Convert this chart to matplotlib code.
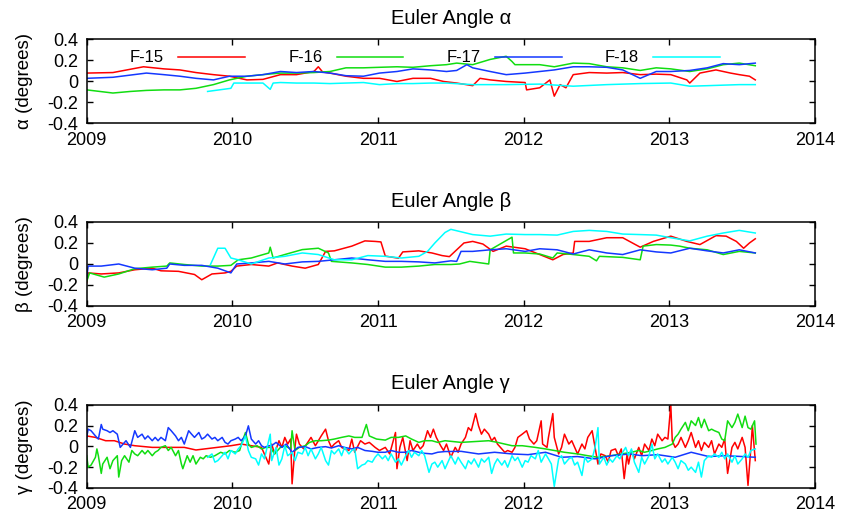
import matplotlib
matplotlib.use("Agg")
import matplotlib.pyplot as plt

plt.rcParams['font.family'] = ['Liberation Sans', 'DejaVu Sans']

satellites = ['F-15', 'F-16', 'F-17', 'F-18']
colors = ['#ff0000', '#11dd11', '#1438ff', '#00ffff']
year_ticks = [2009, 2010, 2011, 2012, 2013, 2014]
angle_ticks = [-0.4, -0.2, 0.0, 0.2, 0.4]
angle_labels = ['-0.4', '-0.2', '0', '0.2', '0.4']

# (decimal year, degrees) for each satellite and Euler angle
alpha_f15 = [(2009.00, 0.08), (2009.18, 0.085), (2009.39, 0.14), (2009.53, 0.12), (2009.64, 0.11),
             (2009.75, 0.085), (2009.87, 0.065), (2009.98, 0.05), (2010.10, 0.015), (2010.21, 0.02),
             (2010.33, 0.065), (2010.44, 0.065), (2010.56, 0.095), (2010.59, 0.14), (2010.62, 0.09),
             (2010.67, 0.08), (2010.78, 0.05), (2010.90, 0.03), (2011.01, 0.03), (2011.13, 0.0),
             (2011.24, 0.03), (2011.36, 0.03), (2011.45, 0.0), (2011.54, -0.015), (2011.65, -0.04),
             (2011.70, 0.03), (2011.77, 0.015), (2011.88, 0.0), (2012.01, -0.01), (2012.02, -0.08),
             (2012.11, -0.06), (2012.18, 0.015), (2012.21, -0.14), (2012.25, -0.03), (2012.29, -0.06),
             (2012.34, 0.065), (2012.45, 0.085), (2012.57, 0.08), (2012.68, 0.085), (2012.80, 0.065),
             (2012.91, 0.07), (2013.01, 0.065), (2013.12, 0.015), (2013.14, -0.015), (2013.21, 0.08),
             (2013.32, 0.11), (2013.42, 0.08), (2013.48, 0.065), (2013.55, 0.05), (2013.59, 0.015)]
alpha_f16 = [(2009.00, -0.08), (2009.18, -0.11), (2009.30, -0.095), (2009.41, -0.085), (2009.53, -0.08),
             (2009.64, -0.08), (2009.75, -0.065), (2009.87, -0.03), (2009.98, 0.015), (2010.10, 0.05),
             (2010.21, 0.065), (2010.33, 0.08), (2010.44, 0.08), (2010.56, 0.085), (2010.67, 0.095),
             (2010.78, 0.13), (2010.90, 0.13), (2011.01, 0.135), (2011.13, 0.14), (2011.24, 0.135),
             (2011.36, 0.15), (2011.47, 0.16), (2011.54, 0.175), (2011.65, 0.16), (2011.77, 0.21),
             (2011.88, 0.24), (2011.92, 0.19), (2011.94, 0.16), (2012.11, 0.16), (2012.21, 0.14),
             (2012.34, 0.175), (2012.45, 0.17), (2012.57, 0.14), (2012.68, 0.13), (2012.80, 0.105),
             (2012.91, 0.13), (2013.01, 0.12), (2013.14, 0.095), (2013.26, 0.12), (2013.37, 0.16),
             (2013.48, 0.175), (2013.59, 0.15)]
alpha_f17 = [(2009.00, 0.03), (2009.18, 0.04), (2009.41, 0.08), (2009.53, 0.065), (2009.64, 0.05),
             (2009.75, 0.03), (2009.87, 0.015), (2009.98, 0.05), (2010.10, 0.05), (2010.21, 0.065),
             (2010.33, 0.095), (2010.44, 0.085), (2010.56, 0.095), (2010.67, 0.08), (2010.78, 0.055),
             (2010.90, 0.05), (2011.01, 0.08), (2011.13, 0.095), (2011.24, 0.12), (2011.36, 0.11),
             (2011.47, 0.095), (2011.54, 0.105), (2011.61, 0.16), (2011.65, 0.13), (2011.77, 0.095),
             (2011.88, 0.065), (2012.01, 0.08), (2012.11, 0.095), (2012.21, 0.11), (2012.34, 0.14),
             (2012.45, 0.14), (2012.57, 0.135), (2012.68, 0.11), (2012.80, 0.03), (2012.91, 0.095),
             (2013.01, 0.095), (2013.14, 0.105), (2013.26, 0.13), (2013.37, 0.17), (2013.48, 0.16),
             (2013.59, 0.175)]
alpha_f18 = [(2009.83, -0.095), (2009.91, -0.08), (2009.99, -0.065), (2010.01, -0.015), (2010.10, -0.015),
             (2010.21, -0.015), (2010.26, -0.075), (2010.28, -0.015), (2010.33, -0.01), (2010.44, -0.015),
             (2010.56, -0.015), (2010.67, -0.02), (2010.78, -0.015), (2010.90, -0.01), (2011.01, -0.03),
             (2011.13, -0.02), (2011.24, -0.02), (2011.36, -0.015), (2011.47, -0.015), (2011.65, -0.03),
             (2011.88, -0.03), (2012.11, -0.025), (2012.34, -0.045), (2012.57, -0.03), (2012.80, -0.02),
             (2013.01, -0.015), (2013.14, -0.045), (2013.26, -0.04), (2013.48, -0.03), (2013.59, -0.03)]

beta_f15 = [(2009.00, -0.18), (2009.01, -0.085), (2009.10, -0.095), (2009.22, -0.085), (2009.33, -0.055),
            (2009.45, -0.04), (2009.51, -0.065), (2009.63, -0.07), (2009.74, -0.1), (2009.79, -0.15),
            (2009.86, -0.095), (2009.95, -0.085), (2009.99, -0.07), (2010.03, -0.02), (2010.13, -0.005),
            (2010.25, -0.02), (2010.31, 0.01), (2010.41, -0.02), (2010.50, -0.04), (2010.59, -0.005),
            (2010.64, 0.12), (2010.70, 0.125), (2010.82, 0.17), (2010.91, 0.22), (2010.98, 0.215),
            (2011.02, 0.21), (2011.05, 0.075), (2011.14, 0.055), (2011.17, 0.115), (2011.28, 0.125),
            (2011.37, 0.105), (2011.44, 0.08), (2011.49, 0.07), (2011.59, 0.2), (2011.65, 0.215),
            (2011.72, 0.19), (2011.79, 0.12), (2011.88, 0.17), (2012.01, 0.145), (2012.11, 0.09),
            (2012.20, 0.04), (2012.27, 0.09), (2012.34, 0.105), (2012.35, 0.215), (2012.45, 0.215),
            (2012.57, 0.25), (2012.68, 0.25), (2012.80, 0.16), (2012.89, 0.215), (2013.01, 0.265),
            (2013.12, 0.215), (2013.21, 0.185), (2013.32, 0.27), (2013.39, 0.265), (2013.46, 0.215),
            (2013.51, 0.15), (2013.55, 0.2), (2013.59, 0.24)]
beta_f16 = [(2009.00, -0.165), (2009.02, -0.085), (2009.12, -0.125), (2009.22, -0.095), (2009.33, -0.045),
            (2009.45, -0.03), (2009.55, -0.02), (2009.57, 0.01), (2009.67, -0.005), (2009.79, -0.02),
            (2009.90, -0.02), (2009.99, -0.013), (2010.04, 0.04), (2010.13, 0.057), (2010.25, 0.105),
            (2010.26, 0.16), (2010.28, 0.057), (2010.36, 0.09), (2010.48, 0.137), (2010.59, 0.15),
            (2010.66, 0.105), (2010.68, 0.025), (2010.82, 0.01), (2010.93, -0.005), (2011.05, -0.03),
            (2011.16, -0.03), (2011.28, -0.02), (2011.39, -0.005), (2011.50, -0.005), (2011.56, 0.0),
            (2011.63, 0.025), (2011.76, 0.0), (2011.77, 0.135), (2011.92, 0.255), (2011.93, 0.105),
            (2012.01, 0.105), (2012.11, 0.095), (2012.20, 0.057), (2012.23, 0.105), (2012.34, 0.09),
            (2012.45, 0.073), (2012.50, 0.03), (2012.52, 0.073), (2012.68, 0.063), (2012.80, 0.04),
            (2012.82, 0.17), (2012.91, 0.185), (2013.01, 0.18), (2013.07, 0.17), (2013.14, 0.15),
            (2013.26, 0.135), (2013.37, 0.09), (2013.48, 0.12), (2013.59, 0.105)]
beta_f17 = [(2009.00, -0.13), (2009.01, -0.02), (2009.10, -0.02), (2009.22, 0.0), (2009.33, -0.04),
            (2009.45, -0.055), (2009.55, -0.04), (2009.57, 0.0), (2009.67, -0.013), (2009.79, -0.013),
            (2009.90, -0.04), (2009.99, -0.085), (2010.03, 0.0), (2010.13, 0.01), (2010.25, 0.025),
            (2010.36, 0.0), (2010.48, 0.02), (2010.59, 0.025), (2010.70, 0.04), (2010.82, 0.057),
            (2010.93, 0.04), (2011.05, 0.025), (2011.16, 0.025), (2011.28, 0.02), (2011.39, 0.01),
            (2011.50, 0.03), (2011.54, 0.025), (2011.57, 0.12), (2011.65, 0.12), (2011.77, 0.135),
            (2011.88, 0.145), (2012.01, 0.12), (2012.11, 0.145), (2012.23, 0.135), (2012.34, 0.095),
            (2012.45, 0.135), (2012.57, 0.105), (2012.68, 0.09), (2012.80, 0.135), (2012.91, 0.115),
            (2013.01, 0.105), (2013.14, 0.15), (2013.26, 0.125), (2013.37, 0.105), (2013.48, 0.135),
            (2013.59, 0.105)]
beta_f18 = [(2009.85, -0.005), (2009.90, 0.15), (2009.95, 0.15), (2009.99, 0.057), (2010.04, 0.04),
            (2010.13, 0.0), (2010.25, 0.057), (2010.36, 0.073), (2010.48, 0.105), (2010.59, 0.09),
            (2010.70, 0.04), (2010.82, 0.04), (2010.93, 0.08), (2011.05, 0.073), (2011.16, 0.057),
            (2011.28, 0.073), (2011.34, 0.12), (2011.39, 0.2), (2011.46, 0.30), (2011.50, 0.33),
            (2011.65, 0.28), (2011.77, 0.265), (2011.88, 0.285), (2012.01, 0.28), (2012.11, 0.28),
            (2012.23, 0.275), (2012.34, 0.31), (2012.45, 0.32), (2012.57, 0.31), (2012.68, 0.285),
            (2012.80, 0.28), (2012.91, 0.275), (2013.01, 0.25), (2013.14, 0.22), (2013.26, 0.265),
            (2013.37, 0.295), (2013.48, 0.32), (2013.59, 0.295)]

gamma_f15 = [(2009.00, 0.1), (2009.06, 0.086), (2009.13, 0.054), (2009.19, 0.054), (2009.26, 0.022),
             (2009.33, 0.006), (2009.45, -0.01), (2009.56, -0.01), (2009.67, -0.01), (2009.75, -0.035),
             (2009.81, -0.025), (2009.90, -0.01), (2009.99, 0.006), (2010.06, 0.022), (2010.13, 0.006),
             (2010.20, -0.01), (2010.22, -0.073), (2010.25, -0.17), (2010.27, 0.022), (2010.29, -0.073),
             (2010.32, 0.054), (2010.34, -0.01), (2010.36, 0.086), (2010.38, 0.022), (2010.40, 0.07),
             (2010.41, -0.36), (2010.43, -0.01), (2010.44, 0.117), (2010.46, 0.022), (2010.49, -0.025),
             (2010.51, 0.022), (2010.54, 0.086), (2010.57, 0.006), (2010.59, 0.054), (2010.61, 0.1),
             (2010.64, 0.165), (2010.66, 0.054), (2010.68, -0.01), (2010.70, 0.022), (2010.73, 0.054),
             (2010.75, -0.01), (2010.77, -0.025), (2010.80, -0.04), (2010.82, 0.07), (2010.84, -0.057),
             (2010.88, 0.054), (2010.91, 0.022), (2010.94, 0.038), (2010.98, -0.01), (2011.01, -0.04),
             (2011.05, -0.01), (2011.08, -0.073), (2011.12, 0.133), (2011.13, -0.215), (2011.15, -0.01),
             (2011.17, 0.086), (2011.20, -0.137), (2011.22, 0.054), (2011.24, -0.04), (2011.27, 0.022),
             (2011.29, -0.025), (2011.31, 0.006), (2011.34, 0.15), (2011.36, 0.086), (2011.38, 0.165),
             (2011.40, 0.086), (2011.43, 0.006), (2011.45, -0.04), (2011.47, 0.022), (2011.50, -0.105),
             (2011.53, -0.01), (2011.55, -0.057), (2011.57, 0.022), (2011.60, 0.086), (2011.62, 0.18),
             (2011.64, 0.15), (2011.67, 0.315), (2011.69, 0.197), (2011.71, 0.117), (2011.73, 0.165),
             (2011.76, 0.117), (2011.78, 0.054), (2011.80, 0.086), (2011.82, 0.022), (2011.85, -0.025),
             (2011.87, -0.057), (2011.89, -0.04), (2011.92, -0.057), (2011.94, -0.01), (2011.96, 0.086),
             (2011.99, 0.117), (2012.02, 0.15), (2012.04, 0.07), (2012.07, 0.022), (2012.09, 0.054),
             (2012.12, 0.245), (2012.13, 0.022), (2012.16, -0.01), (2012.17, 0.086), (2012.20, 0.315),
             (2012.21, 0.086), (2012.24, -0.073), (2012.26, -0.01), (2012.28, 0.117), (2012.31, 0.022),
             (2012.33, 0.054), (2012.35, -0.01), (2012.37, -0.073), (2012.40, 0.022), (2012.42, -0.025),
             (2012.44, 0.086), (2012.47, 0.15), (2012.49, -0.01), (2012.51, -0.17), (2012.53, -0.073),
             (2012.56, -0.09), (2012.58, -0.152), (2012.60, -0.04), (2012.63, -0.025), (2012.65, -0.09),
             (2012.67, -0.025), (2012.69, -0.31), (2012.71, -0.073), (2012.72, -0.17), (2012.74, -0.04),
             (2012.76, -0.12), (2012.79, -0.01), (2012.81, -0.09), (2012.83, 0.022), (2012.86, -0.04),
             (2012.88, 0.07), (2012.90, 0.006), (2012.92, 0.117), (2012.95, 0.054), (2012.97, 0.086),
             (2012.99, 0.07), (2013.01, 0.4), (2013.02, 0.054), (2013.04, -0.01), (2013.06, 0.022),
             (2013.08, 0.086), (2013.11, -0.01), (2013.13, 0.054), (2013.15, 0.133), (2013.18, -0.01),
             (2013.20, 0.054), (2013.22, -0.04), (2013.24, 0.038), (2013.27, -0.01), (2013.29, 0.054),
             (2013.31, -0.073), (2013.34, 0.022), (2013.36, -0.01), (2013.38, 0.07), (2013.40, -0.26),
             (2013.43, -0.01), (2013.45, 0.038), (2013.47, -0.025), (2013.50, 0.086), (2013.52, -0.01),
             (2013.54, -0.375), (2013.56, -0.01), (2013.57, 0.2), (2013.59, -0.137)]
gamma_f16 = [(2009.00, -0.09), (2009.01, -0.2), (2009.03, -0.18), (2009.06, -0.105), (2009.07, -0.025),
             (2009.08, -0.09), (2009.10, -0.26), (2009.11, -0.17), (2009.14, -0.105), (2009.16, -0.215),
             (2009.18, -0.137), (2009.21, -0.09), (2009.22, -0.295), (2009.24, -0.137), (2009.26, -0.09),
             (2009.29, -0.152), (2009.31, -0.04), (2009.33, -0.073), (2009.35, -0.09), (2009.38, -0.04),
             (2009.40, -0.073), (2009.42, -0.04), (2009.45, -0.09), (2009.47, -0.057), (2009.49, -0.04),
             (2009.51, -0.01), (2009.54, 0.006), (2009.56, -0.04), (2009.58, -0.01), (2009.61, -0.09),
             (2009.63, -0.04), (2009.65, -0.17), (2009.66, -0.215), (2009.69, -0.09), (2009.71, -0.152),
             (2009.73, -0.09), (2009.75, -0.17), (2009.78, -0.105), (2009.80, -0.12), (2009.82, -0.09),
             (2009.85, -0.105), (2009.88, -0.09), (2009.92, -0.057), (2009.95, -0.073), (2009.98, -0.04),
             (2010.02, -0.057), (2010.05, -0.04), (2010.07, 0.054), (2010.09, 0.133), (2010.11, 0.022),
             (2010.13, -0.01), (2010.17, 0.006), (2010.20, -0.025), (2010.23, -0.01), (2010.26, -0.01),
             (2010.29, -0.073), (2010.33, -0.01), (2010.36, 0.006), (2010.40, -0.025), (2010.41, 0.15),
             (2010.43, -0.04), (2010.46, -0.01), (2010.50, 0.006), (2010.53, 0.038), (2010.57, 0.054),
             (2010.61, 0.054), (2010.66, 0.06), (2010.70, 0.07), (2010.75, 0.086), (2010.80, 0.1),
             (2010.84, 0.086), (2010.89, 0.086), (2010.92, 0.21), (2010.94, 0.1), (2010.99, 0.07),
             (2011.05, 0.06), (2011.09, 0.086), (2011.14, 0.086), (2011.19, 0.1), (2011.23, 0.07),
             (2011.28, 0.038), (2011.32, 0.054), (2011.37, 0.054), (2011.41, 0.038), (2011.46, 0.054),
             (2011.57, 0.038), (2011.69, 0.048), (2011.76, 0.054), (2011.82, 0.038), (2011.92, 0.006),
             (2011.99, 0.006), (2012.08, -0.01), (2012.15, -0.025), (2012.21, -0.04), (2012.28, -0.057),
             (2012.37, -0.073), (2012.44, -0.09), (2012.51, -0.105), (2012.60, -0.09), (2012.67, -0.073),
             (2012.74, -0.057), (2012.79, -0.04), (2012.83, -0.057), (2012.88, -0.04), (2012.92, -0.025),
             (2012.97, -0.01), (2013.02, 0.022), (2013.04, 0.086), (2013.06, 0.117), (2013.08, 0.165),
             (2013.11, 0.23), (2013.13, 0.15), (2013.15, 0.245), (2013.18, 0.2), (2013.20, 0.277),
             (2013.22, 0.18), (2013.24, 0.26), (2013.27, 0.15), (2013.29, 0.165), (2013.31, 0.15),
             (2013.34, 0.133), (2013.36, 0.07), (2013.38, 0.054), (2013.40, 0.245), (2013.43, 0.18),
             (2013.45, 0.23), (2013.47, 0.31), (2013.50, 0.18), (2013.52, 0.29), (2013.54, 0.18),
             (2013.56, 0.165), (2013.585, 0.245), (2013.595, 0.022)]
gamma_f17 = [(2009.00, 0.086), (2009.01, 0.165), (2009.03, 0.15), (2009.06, 0.1), (2009.08, 0.07),
             (2009.10, 0.21), (2009.11, 0.165), (2009.14, 0.15), (2009.16, 0.133), (2009.18, 0.15),
             (2009.21, 0.117), (2009.23, -0.01), (2009.25, 0.022), (2009.27, 0.054), (2009.30, -0.01),
             (2009.33, 0.15), (2009.35, 0.086), (2009.38, 0.117), (2009.40, 0.07), (2009.42, 0.1),
             (2009.45, 0.054), (2009.47, 0.086), (2009.49, 0.054), (2009.51, 0.086), (2009.54, 0.054),
             (2009.56, 0.18), (2009.58, 0.15), (2009.61, 0.1), (2009.63, 0.054), (2009.65, 0.086),
             (2009.67, 0.022), (2009.70, 0.15), (2009.72, 0.117), (2009.74, 0.086), (2009.77, 0.133),
             (2009.79, 0.07), (2009.81, 0.086), (2009.83, 0.117), (2009.86, 0.07), (2009.88, 0.086),
             (2009.90, 0.054), (2009.93, 0.086), (2009.95, 0.038), (2009.97, 0.022), (2009.99, 0.054),
             (2010.02, 0.07), (2010.04, 0.086), (2010.06, 0.054), (2010.09, 0.1), (2010.11, 0.197),
             (2010.13, 0.07), (2010.16, 0.022), (2010.18, 0.054), (2010.20, 0.006), (2010.22, -0.01),
             (2010.25, 0.006), (2010.27, 0.006), (2010.30, 0.038), (2010.34, -0.01), (2010.37, 0.022),
             (2010.41, -0.057), (2010.45, -0.01), (2010.50, -0.003), (2010.54, -0.025), (2010.59, -0.01),
             (2010.64, -0.003), (2010.68, -0.016), (2010.73, 0.006), (2010.77, -0.01), (2010.82, -0.025),
             (2010.86, -0.01), (2010.91, -0.04), (2010.96, -0.048), (2011.00, -0.057), (2011.05, -0.057),
             (2011.09, -0.04), (2011.14, -0.057), (2011.19, -0.057), (2011.23, -0.04), (2011.28, -0.057),
             (2011.32, -0.067), (2011.37, -0.073), (2011.41, -0.057), (2011.46, -0.05), (2011.57, -0.048),
             (2011.69, -0.073), (2011.80, -0.057), (2011.92, -0.073), (2012.03, -0.08), (2012.15, -0.057),
             (2012.26, -0.105), (2012.37, -0.098), (2012.49, -0.12), (2012.60, -0.09), (2012.73, -0.073),
             (2012.81, -0.09), (2012.92, -0.08), (2013.04, -0.105), (2013.15, -0.057), (2013.27, -0.098),
             (2013.38, -0.09), (2013.50, -0.098), (2013.59, -0.105)]
gamma_f18 = [(2009.83, -0.105), (2009.86, -0.073), (2009.88, -0.152), (2009.90, -0.137), (2009.93, -0.09),
             (2009.95, -0.057), (2009.97, -0.12), (2009.99, -0.04), (2010.02, -0.073), (2010.04, -0.025),
             (2010.06, 0.006), (2010.09, 0.1), (2010.11, -0.04), (2010.13, -0.105), (2010.16, -0.12),
             (2010.18, -0.18), (2010.20, -0.073), (2010.22, -0.12), (2010.26, 0.117), (2010.27, -0.137),
             (2010.30, -0.01), (2010.32, -0.18), (2010.34, -0.12), (2010.36, 0.006), (2010.38, -0.09),
             (2010.41, -0.057), (2010.43, -0.137), (2010.45, -0.057), (2010.48, -0.073), (2010.50, -0.01),
             (2010.52, -0.09), (2010.54, -0.025), (2010.57, -0.12), (2010.59, -0.073), (2010.61, -0.01),
             (2010.64, -0.137), (2010.66, -0.18), (2010.68, -0.04), (2010.70, -0.073), (2010.73, -0.025),
             (2010.75, -0.09), (2010.77, -0.01), (2010.80, -0.073), (2010.82, -0.04), (2010.84, -0.025),
             (2010.86, -0.215), (2010.89, -0.18), (2010.91, -0.17), (2010.93, -0.137), (2010.96, -0.152),
             (2010.98, -0.105), (2011.00, -0.073), (2011.03, -0.12), (2011.05, -0.09), (2011.07, -0.137),
             (2011.09, -0.073), (2011.12, -0.152), (2011.14, -0.12), (2011.16, -0.18), (2011.19, -0.09),
             (2011.21, -0.04), (2011.23, -0.105), (2011.25, -0.057), (2011.28, -0.09), (2011.30, -0.04),
             (2011.32, -0.09), (2011.35, -0.25), (2011.37, -0.17), (2011.39, -0.152), (2011.41, -0.2),
             (2011.44, -0.137), (2011.46, -0.215), (2011.50, -0.09), (2011.53, -0.17), (2011.55, -0.105),
             (2011.57, -0.152), (2011.60, -0.215), (2011.62, -0.137), (2011.64, -0.17), (2011.66, -0.12),
             (2011.69, -0.2), (2011.71, -0.12), (2011.73, -0.152), (2011.76, -0.105), (2011.78, -0.26),
             (2011.80, -0.17), (2011.82, -0.12), (2011.85, -0.18), (2011.87, -0.137), (2011.89, -0.2),
             (2011.92, -0.09), (2011.94, -0.137), (2011.96, -0.105), (2011.99, -0.2), (2012.01, -0.137),
             (2012.03, -0.152), (2012.05, -0.09), (2012.08, -0.12), (2012.10, -0.04), (2012.12, -0.152),
             (2012.15, -0.073), (2012.17, -0.12), (2012.19, -0.17), (2012.21, -0.385), (2012.24, -0.12),
             (2012.26, -0.09), (2012.28, -0.17), (2012.31, -0.12), (2012.33, -0.105), (2012.35, -0.18),
             (2012.37, -0.152), (2012.40, -0.28), (2012.42, -0.105), (2012.44, -0.152), (2012.47, -0.12),
             (2012.49, -0.01), (2012.51, 0.18), (2012.52, -0.17), (2012.55, -0.105), (2012.57, -0.18),
             (2012.59, -0.12), (2012.61, -0.152), (2012.64, -0.09), (2012.66, -0.12), (2012.68, -0.057),
             (2012.70, -0.01), (2012.72, -0.09), (2012.74, -0.025), (2012.76, -0.152), (2012.79, -0.25),
             (2012.81, -0.105), (2012.83, -0.17), (2012.86, -0.09), (2012.88, 0.022), (2012.90, -0.12),
             (2012.92, -0.073), (2012.95, -0.152), (2012.97, -0.12), (2012.99, -0.17), (2013.02, -0.105),
             (2013.04, -0.152), (2013.06, -0.215), (2013.08, -0.137), (2013.11, -0.17), (2013.13, -0.23),
             (2013.15, -0.2), (2013.18, -0.25), (2013.20, -0.152), (2013.22, -0.295), (2013.24, -0.137),
             (2013.27, -0.09), (2013.29, -0.105), (2013.31, -0.073), (2013.34, -0.105), (2013.36, -0.057),
             (2013.38, -0.12), (2013.40, -0.073), (2013.43, -0.152), (2013.45, -0.09), (2013.47, -0.17),
             (2013.50, -0.12), (2013.52, -0.073), (2013.54, -0.105), (2013.56, -0.04), (2013.59, -0.025)]

panels = [
    ('α', [alpha_f15, alpha_f16, alpha_f17, alpha_f18]),
    ('β', [beta_f15, beta_f16, beta_f17, beta_f18]),
    ('γ', [gamma_f15, gamma_f16, gamma_f17, gamma_f18]),
]

fig = plt.figure(figsize=(8.45, 5.16), dpi=100)
rects = [[0.1026, 0.7607, 0.8619, 0.1628],
         [0.1026, 0.4070, 0.8619, 0.1628],
         [0.1026, 0.0543, 0.8619, 0.1614]]

for rect, (angle, series) in zip(rects, panels):
    ax = fig.add_axes(rect)
    for name, color, pts in zip(satellites, colors, series):
        t, v = zip(*pts)
        ax.plot(t, v, color=color, lw=1.1, label=name)
    ax.set_xlim(2009, 2014)
    ax.set_ylim(-0.4, 0.4)
    ax.set_xticks(year_ticks)
    ax.set_xticklabels([str(y) for y in year_ticks])
    ax.set_yticks(angle_ticks)
    ax.set_yticklabels(angle_labels)
    ax.tick_params(direction='in', length=4, width=1, top=True, right=True, labelsize=13)
    ax.tick_params(axis='x', pad=6)
    ax.tick_params(axis='y', pad=6)
    for sp in ax.spines.values():
        sp.set_linewidth(1.1)
    ax.set_title('Euler Angle ' + angle, fontsize=14.5, pad=11)
    ax.set_ylabel(angle + ' (degrees)', fontsize=13.5)
    ax.yaxis.set_label_coords(-0.074, 0.5)
    if angle == 'α':
        ax.legend(ncol=4, loc='center left', bbox_to_anchor=(0.0595, 0.78), frameon=False,
                  markerfirst=False, handlelength=4.0, handletextpad=0.85, columnspacing=2.6,
                  borderpad=0, borderaxespad=0, fontsize=12)

fig.savefig('out.png', dpi=100)
